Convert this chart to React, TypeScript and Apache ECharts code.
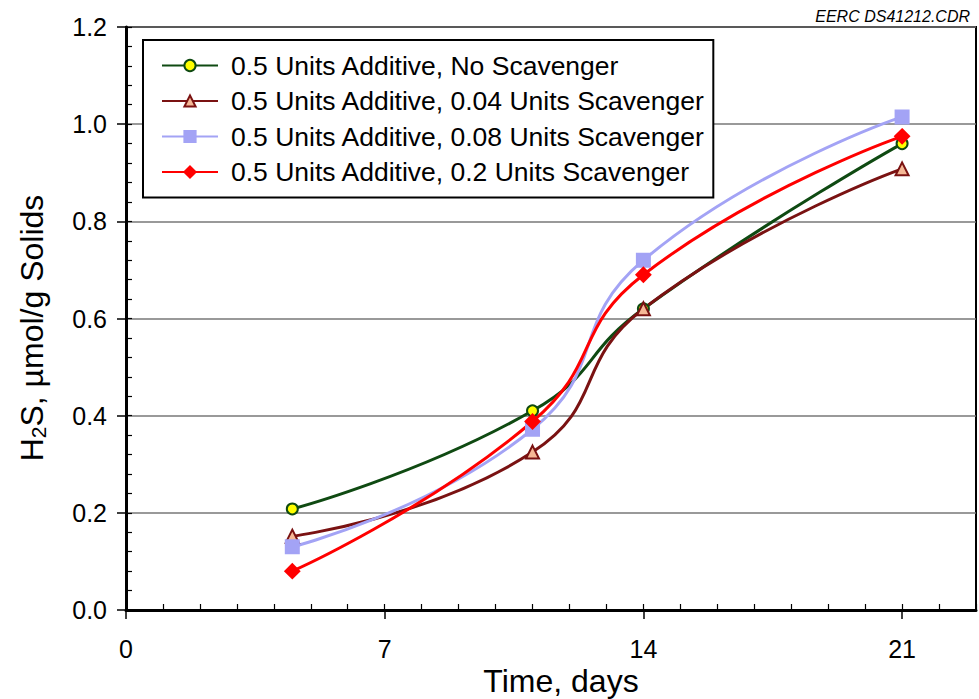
import React, { useEffect, useRef } from "react";
import * as echarts from "echarts";

// Sampling days and H2S readings for each additive/scavenger mix
const days = [4.5, 11, 14, 21];
const noScavenger = [0.208, 0.41, 0.62, 0.96];
const scavenger004 = [0.152, 0.325, 0.62, 0.908];
const scavenger008 = [0.13, 0.372, 0.72, 1.015];
const scavenger02 = [0.08, 0.388, 0.69, 0.975];

const seriesNames = [
  "0.5 Units Additive, No Scavenger",
  "0.5 Units Additive, 0.04 Units Scavenger",
  "0.5 Units Additive, 0.08 Units Scavenger",
  "0.5 Units Additive, 0.2 Units Scavenger",
];

const xMin = 0;
const xMax = 23;
const xMajor = 7;
const xMinor = 1;
const yMin = 0;
const yMax = 1.2;
const yMajor = 0.2;
const yMinor = 0.04;

const xTitle = "Time, days";
const drawingId = "EERC DS41212.CDR";

const FONT = "'Liberation Sans', Arial, sans-serif";

const pairs = (vals: number[]) => days.map((d, i) => [d, vals[i]]);

export default function App() {
  const ref = useRef<HTMLDivElement>(null);

  useEffect(() => {
    if (!ref.current) return;
    const chart = echarts.init(ref.current, null, { renderer: "svg" });

    const lineSeries = (
      name: string,
      vals: number[],
      color: string,
      symbol: string,
      symbolSize: number,
      fill: string
    ) => ({
      type: "line",
      name,
      data: pairs(vals),
      xAxisIndex: 0,
      yAxisIndex: 0,
      smooth: 0.5,
      symbol,
      symbolSize,
      showAllSymbol: true,
      lineStyle: { color, width: 3 },
      itemStyle: { color: fill, borderColor: color, borderWidth: 2 },
      emphasis: { disabled: true },
    });

    chart.setOption({
      animation: false,
      backgroundColor: "#ffffff",
      grid: {
        left: 126,
        top: 27,
        right: 3,
        bottom: 89,
        outerBoundsMode: "none",
        containLabel: false,
        show: true,
        borderColor: "#000",
        borderWidth: 2,
        backgroundColor: "transparent",
      },
      legend: {
        orient: "vertical",
        left: 143,
        top: 40,
        data: seriesNames,
        backgroundColor: "#ffffff",
        borderColor: "#000",
        borderWidth: 2,
        padding: [12, 8, 12, 18],
        itemGap: 8.5,
        itemWidth: 56,
        itemHeight: 14,
        textStyle: {
          fontFamily: FONT,
          fontSize: 26.5,
          color: "#000",
          padding: [0, 0, 0, 8],
        },
        selectedMode: false,
      },
      xAxis: [
        {
          type: "value",
          min: xMin,
          max: xMax,
          interval: xMajor,
          axisLine: { show: true, onZero: false, lineStyle: { color: "#000", width: 3 } },
          axisTick: { show: true, inside: false, length: 9, lineStyle: { color: "#000", width: 1.5 } },
          axisLabel: {
            fontFamily: FONT,
            fontSize: 25,
            color: "#000",
            margin: 26,
            showMaxLabel: false,
          },
          splitLine: { show: false },
        },
        {
          type: "value",
          min: xMin,
          max: xMax,
          interval: xMinor,
          position: "bottom",
          axisLine: { show: false },
          axisTick: { show: true, inside: true, length: 6, lineStyle: { color: "#000", width: 1.2 } },
          axisLabel: { show: false },
          splitLine: { show: false },
        },
      ],
      yAxis: [
        {
          type: "value",
          min: yMin,
          max: yMax,
          interval: yMajor,
          axisLine: { show: true, onZero: false, lineStyle: { color: "#000", width: 3 } },
          axisTick: { show: true, inside: false, length: 9, lineStyle: { color: "#000", width: 1.5 } },
          axisLabel: {
            fontFamily: FONT,
            fontSize: 25,
            color: "#000",
            margin: 19,
            formatter: (v: number) => v.toFixed(1),
          },
          splitLine: { show: true, lineStyle: { color: "#777777", width: 1.5 } },
        },
        {
          type: "value",
          min: yMin,
          max: yMax,
          interval: yMinor,
          position: "left",
          axisLine: { show: false },
          axisTick: { show: true, inside: true, length: 6, lineStyle: { color: "#000", width: 1.2 } },
          axisLabel: { show: false },
          splitLine: { show: false },
        },
      ],
      graphic: [
        {
          type: "text",
          right: 9,
          top: 8,
          style: {
            text: drawingId,
            fontFamily: FONT,
            fontStyle: "italic",
            fontSize: 16,
            fill: "#000",
          },
        },
        {
          // x-axis title
          type: "text",
          x: 561,
          y: 681,
          style: {
            text: xTitle,
            fontFamily: FONT,
            fontSize: 32,
            fill: "#000",
            align: "center",
            verticalAlign: "middle",
          },
        },
        {
          // y-axis title with subscript 2
          type: "text",
          x: 32,
          y: 328,
          rotation: Math.PI / 2,
          style: {
            text: "{n|H}{s|2}{n|S, µmol/g Solids}",
            align: "center",
            verticalAlign: "middle",
            fill: "#000",
            rich: {
              n: { fontFamily: FONT, fontSize: 32, fill: "#000" },
              s: { fontFamily: FONT, fontSize: 21, fill: "#000", padding: [12, 0, 0, 0] },
            },
          },
        },
      ],
      series: [
        lineSeries(seriesNames[0], noScavenger, "#0f4a12", "circle", 11, "#ffff00"),
        lineSeries(seriesNames[1], scavenger004, "#7a1212", "triangle", 13, "#f5b896"),
        lineSeries(seriesNames[2], scavenger008, "#a3a3f5", "rect", 13, "#a3a3f5"),
        lineSeries(seriesNames[3], scavenger02, "#ff0000", "diamond", 14, "#ff0000"),
      ],
    });

    return () => chart.dispose();
  }, []);

  return (
    <div
      ref={ref}
      style={{ position: "fixed", left: 0, top: 0, width: 979, height: 699 }}
    />
  );
}
